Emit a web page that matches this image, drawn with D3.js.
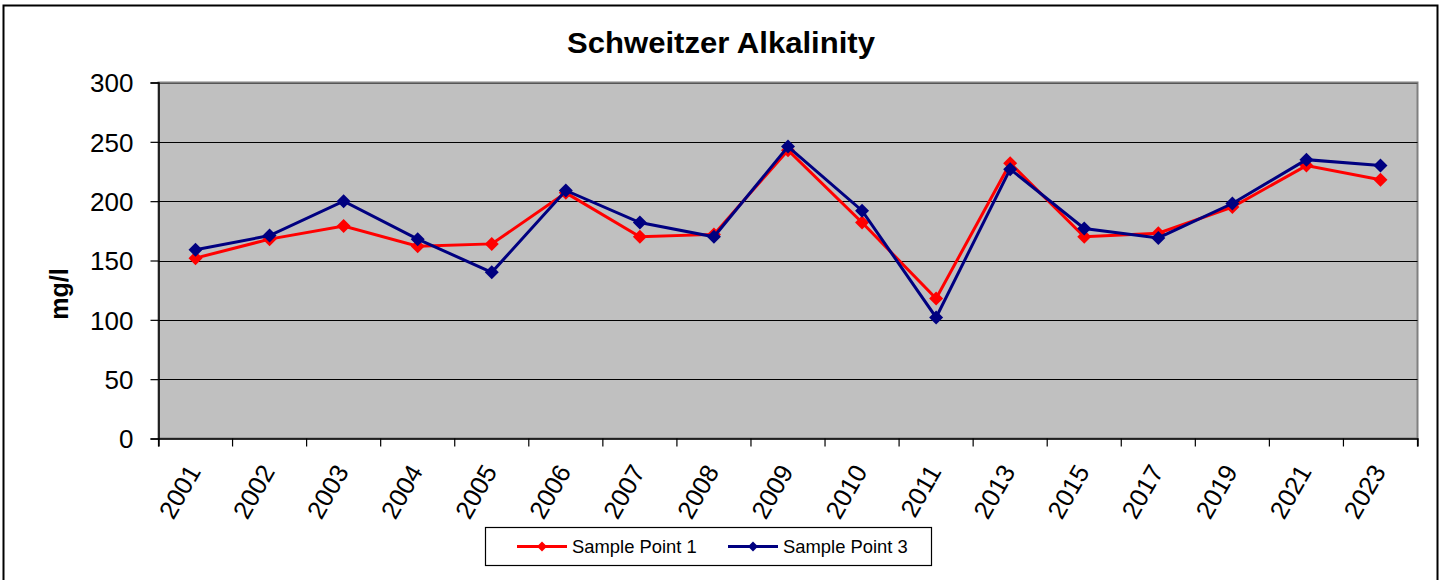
<!DOCTYPE html>
<html>
<head>
<meta charset="utf-8">
<script src="https://cdn.jsdelivr.net/npm/d3@7"></script>
<style>
  body { margin: 0; background: #fff; }
  svg { display: block; font-family: Arial, "Liberation Sans", sans-serif; }
</style>
</head>
<body>
<script>
var width = 1442, height = 580;

/** data **/
var years = ["2001", "2002", "2003", "2004", "2005", "2006", "2007", "2008", "2009",
             "2010", "2011", "2013", "2015", "2017", "2019", "2021", "2023"];
var point1 = [152, 168, 179, 162, 164, 207, 170, 172, 243, 182, 118, 232, 170, 173, 195, 230, 218];
var point3 = [159, 171, 200, 168, 140, 209, 182, 170, 246, 192, 102, 227, 177, 169, 198, 235, 230];
var yTicks = [0, 50, 100, 150, 200, 250, 300];

var series = [
    { name: "Sample Point 1", values: point1, color: "#ff0000" },
    { name: "Sample Point 3", values: point3, color: "#000080" }
];

var plot = { left: 158.5, right: 1417.5, top: 82.5, bottom: 438.5 };

var svg = d3.select("body").append("svg")
    .attr("width", width).attr("height", height);

// chart frame
svg.append("rect")
    .attr("x", 3.5).attr("y", 5.5)
    .attr("width", 1434).attr("height", 590)
    .attr("fill", "#fff").attr("stroke", "#000").attr("stroke-width", 2);

var x = d3.scaleBand().domain(years).range([plot.left, plot.right]);
var y = d3.scaleLinear().domain([0, 300]).range([plot.bottom, plot.top]);
var bw = x.bandwidth();

// plot area
svg.append("rect")
    .attr("x", plot.left).attr("y", plot.top)
    .attr("width", plot.right - plot.left).attr("height", plot.bottom - plot.top)
    .attr("fill", "#c0c0c0").attr("stroke", "#808080").attr("stroke-width", 2);

// gridlines
svg.append("g").selectAll("line")
    .data(yTicks.filter(d => d > 0))
    .enter().append("line")
    .attr("x1", plot.left).attr("x2", plot.right)
    .attr("y1", d => Math.round(y(d)) + 0.5).attr("y2", d => Math.round(y(d)) + 0.5)
    .attr("stroke", d => d == 300 ? "#555" : "#000").attr("stroke-width", 1.2);

// y axis
var yAxis = svg.append("g")
    .attr("transform", "translate(" + plot.left + ",0)")
    .call(d3.axisLeft(y).tickValues(yTicks).tickSize(8).tickPadding(17));
yAxis.select(".domain").attr("stroke", "#000").attr("stroke-width", 1.5);
yAxis.selectAll(".tick line").attr("stroke", "#000").attr("stroke-width", 1.2);
yAxis.selectAll(".tick text")
    .attr("font-size", 26).attr("font-family", "Arial, 'Liberation Sans', sans-serif")
    .attr("fill", "#000").attr("dy", "0.36em");

// x axis, ticks on band edges
var xAxis = svg.append("g")
    .attr("transform", "translate(0," + plot.bottom + ")")
    .call(d3.axisBottom(x).tickSize(8).tickFormat(""));
xAxis.select(".domain").attr("stroke", "#000").attr("stroke-width", 1.5);
xAxis.selectAll(".tick line")
    .attr("x1", -bw / 2).attr("x2", -bw / 2)
    .attr("stroke", "#000").attr("stroke-width", 1.2);
xAxis.append("line")
    .attr("x1", plot.right).attr("x2", plot.right)
    .attr("y1", 0).attr("y2", 8)
    .attr("stroke", "#000").attr("stroke-width", 1.2);

svg.append("g").selectAll("text")
    .data(years)
    .enter().append("text")
    .attr("transform", d => "translate(" + (x(d) + bw / 2 + 6) + "," + (plot.bottom + 33) + ") rotate(-60)")
    .attr("text-anchor", "end")
    .attr("font-size", 25.5)
    .text(d => d);

// lines + markers
var line = d3.line()
    .x((d, i) => x(years[i]) + bw / 2)
    .y(d => y(d));

function diamond(r) {
    return "M0," + (-r) + "L" + r + ",0L0," + r + "L" + (-r) + ",0Z";
}

series.forEach(s => {
    svg.append("path")
        .datum(s.values)
        .attr("d", line)
        .attr("fill", "none")
        .attr("stroke", s.color)
        .attr("stroke-width", 3);
    svg.append("g").selectAll("path")
        .data(s.values)
        .enter().append("path")
        .attr("d", diamond(7))
        .attr("transform", (d, i) => "translate(" + (x(years[i]) + bw / 2) + "," + y(d) + ")")
        .attr("fill", s.color);
});

// title
svg.append("text")
    .attr("x", 721).attr("y", 52.5)
    .attr("text-anchor", "middle")
    .attr("font-size", 29).attr("font-weight", "bold")
    .attr("textLength", 308).attr("lengthAdjust", "spacingAndGlyphs")
    .text("Schweitzer Alkalinity");

// y axis title
svg.append("text")
    .attr("transform", "translate(68,294) rotate(-90)")
    .attr("text-anchor", "middle")
    .attr("font-size", 25).attr("font-weight", "bold")
    .text("mg/l");

// legend
var legend = svg.append("g");
legend.append("rect")
    .attr("x", 485.5).attr("y", 527.5)
    .attr("width", 446).attr("height", 38)
    .attr("fill", "#fff").attr("stroke", "#000").attr("stroke-width", 1.2);

var legendX = [517, 728];
series.forEach((s, i) => {
    var g = legend.append("g").attr("transform", "translate(" + legendX[i] + ",546.5)");
    g.append("line").attr("x1", 0).attr("x2", 50)
        .attr("stroke", s.color).attr("stroke-width", 3);
    g.append("path").attr("d", diamond(5))
        .attr("transform", "translate(25,0)")
        .attr("fill", s.color);
    g.append("text").attr("x", 55).attr("y", 6.5)
        .attr("font-size", 18.4)
        .text(s.name);
});
</script>
</body>
</html>
